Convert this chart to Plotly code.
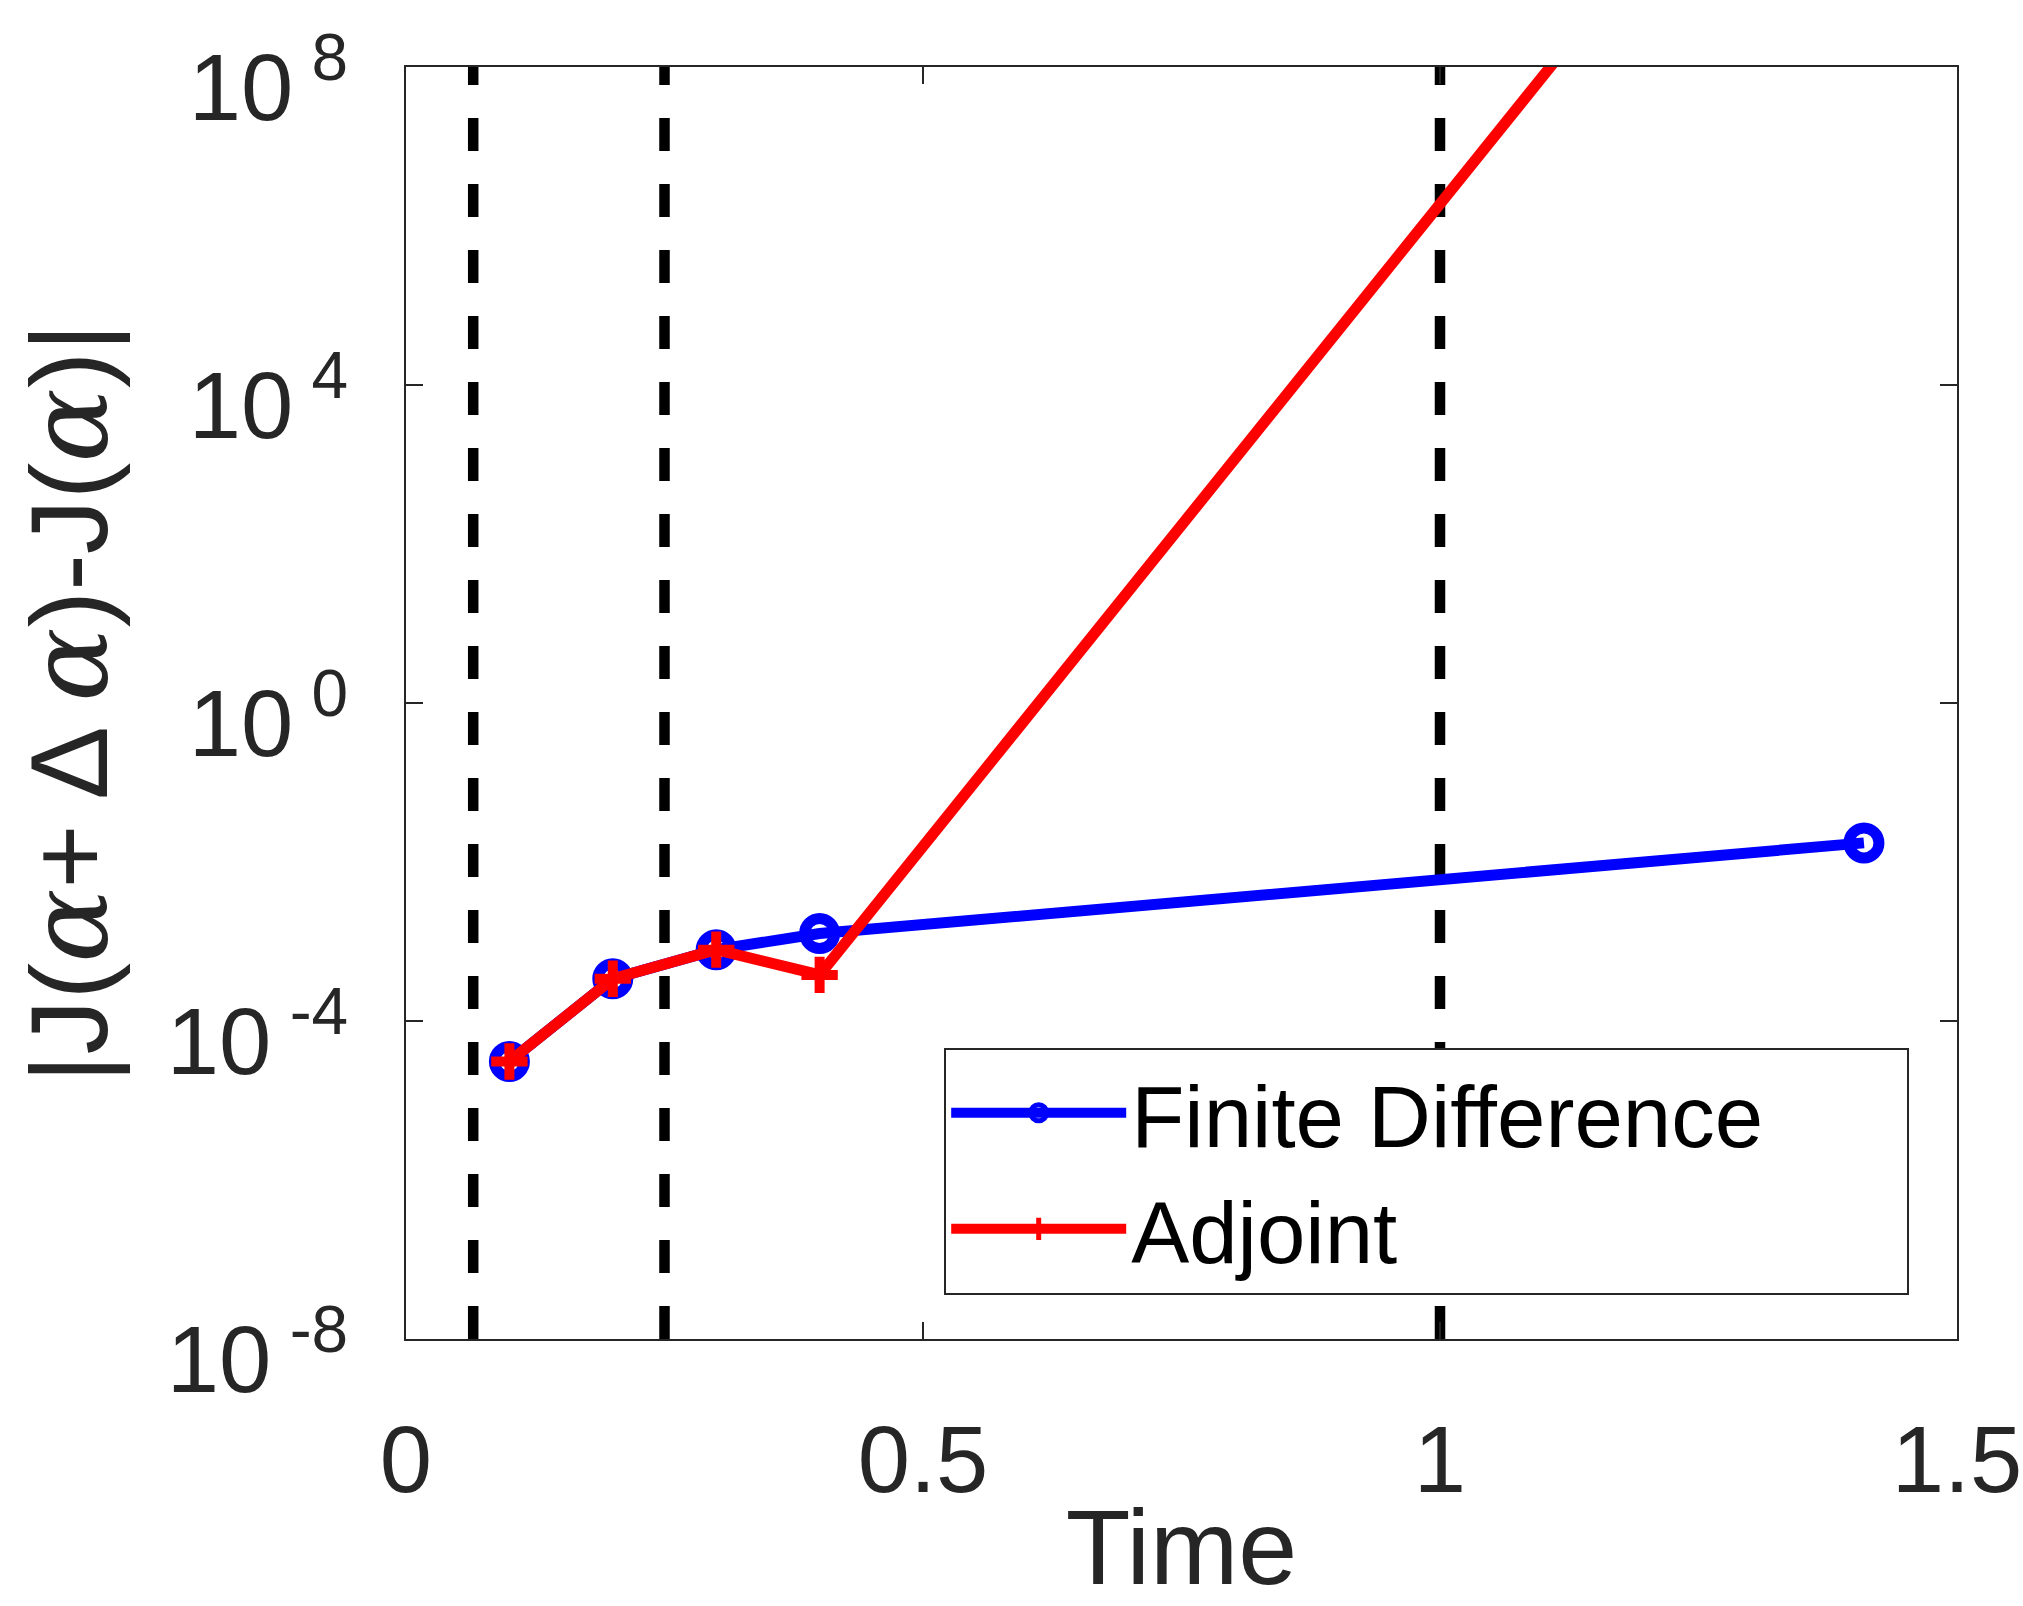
import plotly.graph_objects as go

# ---- data ----
time_fd = [0.1, 0.2, 0.3, 0.4, 1.41]
finite_difference = [3.1e-5, 3.4e-4, 7.9e-4, 1.26e-3, 1.74e-2]

time_adj = [0.1, 0.2, 0.3, 0.4, 1.41]
adjoint = [3.1e-5, 3.4e-4, 7.9e-4, 3.8e-4, 8.0e12]

event_times = [0.065, 0.25, 1.0]
y_span = [1e-8, 1e8]

x_ticks = [0, 0.5, 1, 1.5]
x_ticktext = ["0", "0.5", "1", "1.5"]
y_ticks = [1e-8, 1e-4, 1e0, 1e4, 1e8]
y_ticktext = ["10<sup> -8</sup>", "10<sup> -4</sup>", "10<sup> 0</sup>", "10<sup> 4</sup>", "10<sup> 8</sup>"]

series_names = ["Finite Difference", "Adjoint"]

FONT = "Liberation Sans, Arial, Helvetica, sans-serif"
AX = "#262626"
PAD = "\u00a0" * 5 + "\u2009"  # trailing room inside the legend box, as in the reference

fig = go.Figure()

for t in event_times:
    fig.add_trace(go.Scatter(
        x=[t, t], y=y_span, mode="lines", showlegend=False, hoverinfo="skip",
        line=dict(color="black", width=10.5, dash="33px,33px"),
    ))

fig.add_trace(go.Scatter(
    x=time_fd, y=finite_difference, mode="lines+markers", name=series_names[0] + PAD,
    line=dict(color="#0000ff", width=11),
    marker=dict(symbol="circle-open", size=30, color="#0000ff", line=dict(width=11, color="#0000ff")),
))
fig.add_trace(go.Scatter(
    x=time_adj, y=adjoint, mode="lines+markers", name=series_names[1],
    line=dict(color="#ff0000", width=11),
    marker=dict(symbol="cross-thin-open", size=26, color="#ff0000", line=dict(width=10, color="#ff0000")),
))

alpha = "<span style=\"font-family:'DejaVu Serif';font-style:italic\">α</span>"
ytitle = "|J(" + alpha + "+ Δ " + alpha + ")-J(" + alpha + ")|"

fig.update_layout(
    width=2023, height=1606,
    margin=dict(l=406, r=66, t=67, b=267, autoexpand=False),
    paper_bgcolor="white", plot_bgcolor="white",
    font=dict(family=FONT, color=AX, size=94),
    showlegend=True,
    legend=dict(
        x=0.347, y=0.229, xanchor="left", yanchor="top",
        bgcolor="white", bordercolor=AX, borderwidth=2,
        font=dict(family=FONT, size=87, color="black"),
        itemwidth=175, tracegroupgap=0,
    ),
    xaxis=dict(
        range=[0, 1.5], tickvals=x_ticks, ticktext=x_ticktext,
        ticks="inside", ticklen=17, tickwidth=2, tickcolor=AX,
        showline=True, linecolor=AX, linewidth=2, mirror="ticks",
        showgrid=False, zeroline=False, automargin=True,
        tickfont=dict(size=94, color=AX, family=FONT),
        ticklabelstandoff=38,
        title=dict(text="Time", font=dict(size=106, color=AX, family=FONT), standoff=45),
    ),
    yaxis=dict(
        type="log", range=[-8, 8], tickvals=y_ticks, ticktext=y_ticktext,
        ticks="inside", ticklen=17, tickwidth=2, tickcolor=AX,
        showline=True, linecolor=AX, linewidth=2, mirror="ticks",
        showgrid=False, zeroline=False, automargin=True,
        tickfont=dict(size=94, color=AX, family=FONT),
        ticklabelstandoff=37, ticklabelshift=20,
        title=dict(text=ytitle, font=dict(size=110, color=AX, family=FONT), standoff=22),
    ),
)

fig.write_html("out.html")
